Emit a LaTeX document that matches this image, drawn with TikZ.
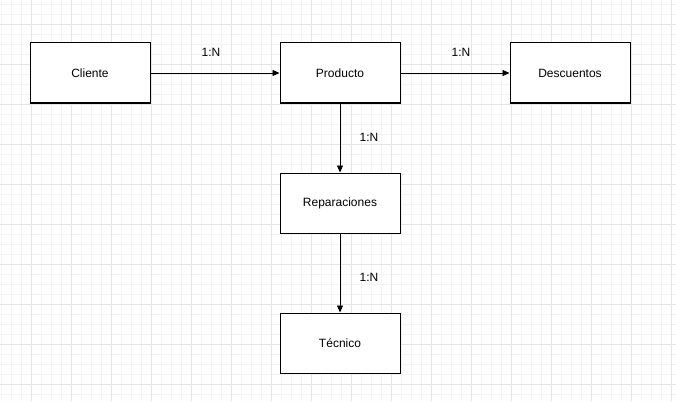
\documentclass[tikz,border=0pt]{standalone}
\usepackage{fontspec}
\setmainfont{Liberation Sans}
\usetikzlibrary{arrows.meta}
\definecolor{minorgrid}{HTML}{F3F3F3}
\definecolor{majorgrid}{HTML}{E5E5E5}
\begin{document}
\begin{tikzpicture}[x=1pt,y=-1pt,
  entity/.style={draw=black,fill=white,line width=1pt,minimum width=120pt,minimum height=60pt,inner sep=0pt,font=\fontsize{12}{14}\selectfont},
  rel/.style={draw=black,line width=0.9pt,-{Triangle[length=7pt,width=6pt]}},
  card/.style={font=\fontsize{12}{14}\selectfont,inner sep=0pt}]
\useasboundingbox (0,0) rectangle (676,401);
\fill[white] (0,0) rectangle (676,401);
\foreach \i in {0,...,67} {\draw[minorgrid,line width=0.7pt] (1+10*\i,0) -- (1+10*\i,401);}
\foreach \j in {0,...,39} {\draw[minorgrid,line width=0.7pt] (0,4+10*\j) -- (676,4+10*\j);}
\foreach \i in {0,...,16} {\draw[majorgrid,line width=0.7pt] (31+40*\i,0) -- (31+40*\i,401);}
\foreach \j in {0,...,9} {\draw[majorgrid,line width=0.7pt] (0,24+40*\j) -- (676,24+40*\j);}
\node[entity] (cliente) at (90,73) {Cliente};
\node[entity] (producto) at (340,73) {Producto};
\node[entity] (descuentos) at (570,73) {Descuentos};
\node[entity] (reparaciones) at (340,203) {Reparaciones};
\node[entity] (tecnico) at (340,343) {Técnico};
\draw[rel] (cliente) -- (producto);
\draw[rel] (producto) -- (descuentos);
\draw[rel] (producto) -- (reparaciones);
\draw[rel] (reparaciones) -- (tecnico);
\node[card] (c1) at (211,52) {1:N};
\node[card] (c2) at (461,52) {1:N};
\node[card] (c3) at (369,137) {1:N};
\node[card] (c4) at (369,277) {1:N};
\end{tikzpicture}
\end{document}
